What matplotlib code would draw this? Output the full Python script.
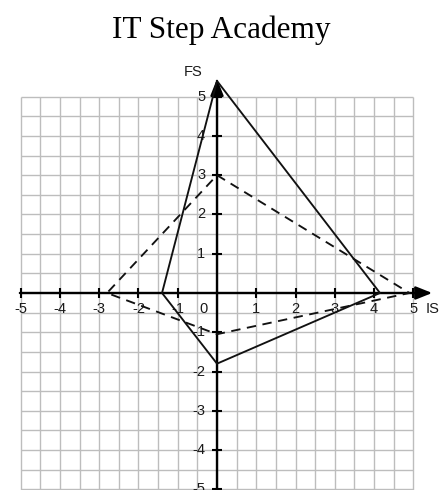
import numpy as np
import matplotlib.pyplot as plt

# two quadrilaterals on the IS-FS plane
solid_x = [0, 4.15, 0, -1.4, 0]
solid_y = [5.4, 0, -1.8, 0, 5.4]
dashed_x = [0, 4.9, 0, -2.8, 0]
dashed_y = [3, 0, -1.05, 0, 3]

ticks = [-5, -4, -3, -2, -1, 1, 2, 3, 4, 5]
x_name = "IS"
y_name = "FS"
title = "IT Step Academy"

fig = plt.figure(figsize=(4.43, 4.9), dpi=100)
ax = fig.add_axes([0, 0, 1, 1])
ax.set_xlim(-5.526, 5.755)
ax.set_ylim(-5.017, 7.461)
ax.axis("off")

# half-unit grid
grid = np.arange(-5, 5.01, 0.5)
ax.vlines(grid, -5.6, 5, color="#bdbdbd", lw=1.0, zorder=1)
ax.hlines(grid, -5, 5, color="#bdbdbd", lw=1.0, zorder=1)
ax.hlines([-5.5], -5, 5, color="#bdbdbd", lw=1.0, zorder=1)

# axes with arrows
arrow = dict(arrowstyle="-|>,head_length=0.55,head_width=0.22", lw=1.7,
             color="black", mutation_scale=18, shrinkA=0, shrinkB=0)
ax.annotate("", xy=(5.48, 0), xytext=(-5.02, 0), arrowprops=arrow, zorder=3)
ax.annotate("", xy=(0, 5.45), xytext=(0, -5.6), arrowprops=arrow, zorder=3)

# crossing tick marks
ax.plot(ticks, [0] * len(ticks), ls="none", marker="|", ms=7, mew=1.5,
        color="black", zorder=3)
ax.plot([0] * len(ticks), ticks, ls="none", marker="_", ms=7, mew=1.5,
        color="black", zorder=3)

lab = dict(fontsize=10.5, color="#1a1a1a", family="Liberation Sans")
for t in ticks:
    ax.text(t, -0.4, str(t), ha="center", va="center", **lab)
    ax.text(-0.3, t, str(t), ha="right", va="center", **lab)
ax.text(-0.34, -0.4, "0", ha="center", va="center", **lab)
ax.text(-0.6, 5.63, y_name, ha="center", va="center", **lab)
ax.text(5.32, -0.4, x_name, ha="left", va="center", **lab)

ax.plot(solid_x, solid_y, color="#111111", lw=1.35, zorder=4)
ax.plot(dashed_x, dashed_y, color="#111111", lw=1.35, ls=(0, (5, 3.5)), zorder=4)

fig.text(0.5, 1 - 30 / 490, title, ha="center", va="center",
         fontsize=22.5, family="Liberation Serif")

fig.savefig("out.png", dpi=100)
